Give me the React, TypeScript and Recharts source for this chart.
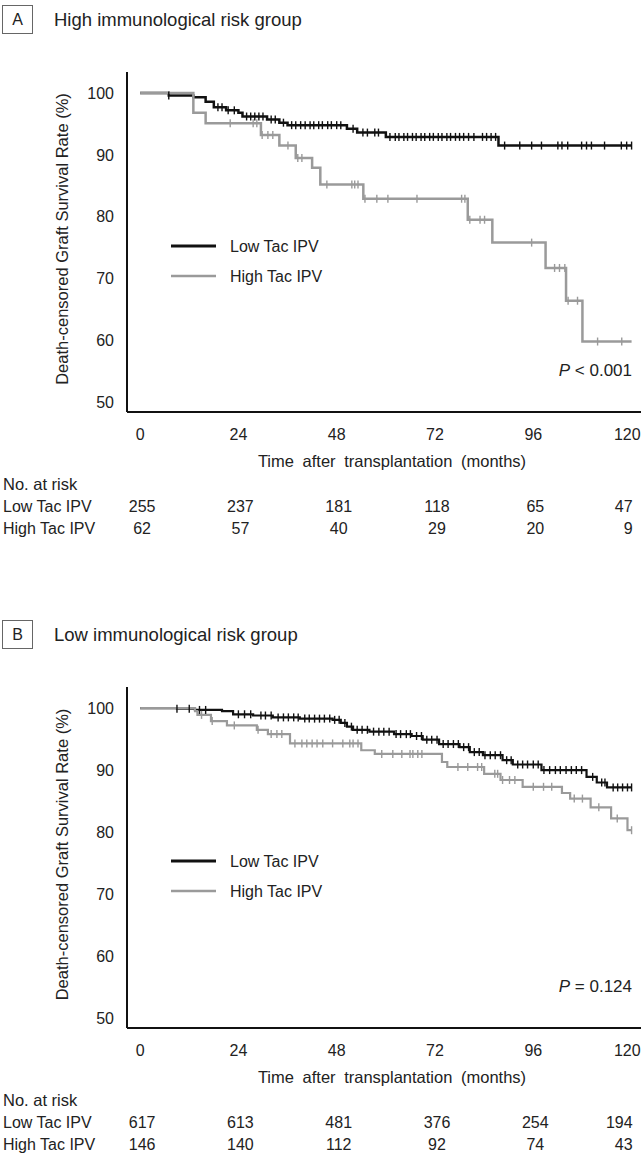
import React from 'react';
import { ComposedChart, Line, Scatter, XAxis, YAxis, Legend } from 'recharts';

const FONT = '"Liberation Sans", Arial, sans-serif';
const TEXT = '#222222';
const LOW_COLOR = '#111111';
const HIGH_COLOR = '#9a9a9a';

const timeTicks = [0, 24, 48, 72, 96, 120];
const survTicks = [50, 60, 70, 80, 90, 100];
const seriesNames = ['Low Tac IPV', 'High Tac IPV'];

// Panel A – High immunological risk group
const aLowTime = [0, 7, 13, 16, 18, 21, 24, 25, 31, 34, 36, 50.5, 53, 60, 87.5, 120];
const aLowSurv = [100, 99.6, 99.3, 98.6, 97.7, 97.2, 96.8, 96.2, 95.7, 95.2, 94.8, 94.2, 93.6, 92.9, 91.5, 91.5];
const aLowCensor = [7, 19, 20, 21.5, 23, 26, 27, 28, 29, 30, 32, 33, 35, 37, 38, 39.2, 40.3, 41.5, 42.4, 43.6, 44.5, 45.8, 46.7, 48, 49, 52, 54.4, 55.5, 57.3, 58.2, 61, 62.3, 63.2, 64.4, 65.3, 66.5, 67.4, 68.6, 69.5, 70.7, 71.6, 72.8, 73.7, 74.9, 75.8, 77, 78, 79, 80.2, 81.5, 83.6, 84.6, 85.7, 86.8, 89, 92.7, 95.6, 98, 102, 103, 104.4, 107.8, 109, 110.2, 113.4, 117.5, 118.8, 120];
const aHighTime = [0, 13, 16, 29.5, 34, 38, 42, 44, 54.5, 80, 86, 99, 104, 108, 120];
const aHighSurv = [100, 96.8, 95.1, 93.2, 91.5, 89.5, 87.9, 85.2, 82.9, 79.5, 75.8, 71.7, 66.4, 59.8, 59.8];
const aHighCensor = [22, 27.6, 28.5, 29.8, 31.2, 32.4, 36.1, 38.5, 39.5, 45.6, 51.7, 52.4, 53.2, 54.9, 57.8, 60.5, 67.6, 78.5, 79.3, 80.5, 83, 84.1, 95.6, 101.2, 102.4, 103.7, 104.5, 106.8, 111.7, 117.6];
const aLowRisk = [255, 237, 181, 118, 65, 47];
const aHighRisk = [62, 57, 40, 29, 20, 9];

// Panel B – Low immunological risk group
const bLowTime = [0, 9, 13.4, 20, 22.7, 27.6, 32.4, 39, 47, 49, 50.5, 52, 56, 62, 66.3, 69, 73, 78, 80.5, 83.7, 88.5, 91, 98, 109, 111.5, 114, 120];
const bLowSurv = [100, 99.9, 99.7, 99.5, 99.0, 98.8, 98.5, 98.3, 98.1, 97.6, 97.0, 96.5, 96.2, 95.8, 95.5, 94.9, 94.2, 93.7, 92.9, 92.4, 91.6, 90.9, 90.0, 88.9, 88.0, 87.2, 87.2];
const bLowCensor = [9, 12, 14.5, 16, 24, 25.5, 27, 29.5, 30.6, 32, 33.7, 35, 36.2, 37.5, 38.6, 40.2, 41.3, 42.6, 43.8, 45, 46.3, 47.5, 48.6, 50, 51.6, 53, 54.2, 55.5, 57, 58.3, 59.5, 60.8, 62.5, 63.6, 65, 66, 67.5, 68.7, 70, 71.2, 72.5, 74, 75.2, 76.5, 77.7, 79, 80.2, 81.6, 82.8, 84.2, 85.5, 86.7, 88, 89.5, 90.6, 92.2, 93.4, 94.6, 96, 97.2, 98.6, 100, 101.4, 102.6, 104, 105.3, 106.5, 107.8, 110.5, 112.7, 113.5, 115.5, 116.6, 117.8, 119, 120];
const bHighTime = [0, 13.4, 14, 17.3, 21.2, 28.5, 31.2, 36.6, 54, 57.3, 73.7, 75, 84, 88, 93.4, 103, 105, 110, 115, 119, 120];
const bHighSurv = [100, 99.5, 98.9, 97.9, 97.2, 96.5, 95.8, 94.3, 93.2, 92.6, 91.3, 90.5, 89.4, 88.4, 87.3, 86.3, 85.4, 84.0, 82.2, 80.3, 80.3];
const bHighCensor = [15, 17.6, 23, 28.8, 32, 33.4, 34.6, 37.8, 39.5, 40.7, 42, 43.2, 44.6, 47, 49.5, 51.2, 52, 53.2, 59, 61.7, 63.9, 65.9, 66.6, 67.8, 68.8, 77.6, 80, 82.4, 83.4, 86.6, 87.3, 88.5, 90.2, 91.5, 96, 98.5, 100.5, 106, 108, 112, 116.5, 120];
const bLowRisk = [617, 613, 481, 376, 254, 194];
const bHighRisk = [146, 140, 112, 92, 74, 43];

function survAt(times: number[], survs: number[], t: number) {
  let v = survs[0];
  for (let i = 0; i < times.length; i++) {
    if (times[i] <= t) v = survs[i];
  }
  return v;
}

const censorShape = (color: string) => (props: any) => {
  const { cx, cy } = props;
  if (cx == null || cy == null) return <g />;
  return <line x1={cx} x2={cx} y1={cy - 4} y2={cy + 4} stroke={color} strokeWidth={1.4} />;
};

type PanelProps = {
  top: number;
  letter: string;
  title: string;
  plotHeight: number;
  lowTime: number[];
  lowSurv: number[];
  lowCensor: number[];
  highTime: number[];
  highSurv: number[];
  highCensor: number[];
  lowRisk: number[];
  highRisk: number[];
  pOp: string;
  pVal: string;
  lineWidth: number;
};

function KMPanel(p: PanelProps) {
  const plotTop = 72;
  const chartH = plotTop + p.plotHeight + 150;
  const axisY = plotTop + p.plotHeight;
  const xAxisH = 30;
  const lowData = p.lowTime.map((t, i) => ({ t, s: p.lowSurv[i] }));
  const highData = p.highTime.map((t, i) => ({ t, s: p.highSurv[i] }));
  const lowCens = p.lowCensor.map((t) => ({ t, s: survAt(p.lowTime, p.lowSurv, t) }));
  const highCens = p.highCensor.map((t) => ({ t, s: survAt(p.highTime, p.highSurv, t) }));

  const renderXTick = (props: any) => {
    const { x, y, payload } = props;
    const idx = timeTicks.indexOf(payload.value);
    const last = idx === timeTicks.length - 1;
    const anchor = last ? ('end' as const) : ('middle' as const);
    const common = { fontFamily: FONT, fill: TEXT, textAnchor: anchor, dominantBaseline: 'central' as const };
    return (
      <g>
        <text x={last ? x + 9 : x} y={y + 22} fontSize={16} {...common}>{payload.value}</text>
        <text x={last ? x + 1 : x + 2} y={y + 94} fontSize={16} {...common}>{p.lowRisk[idx]}</text>
        <text x={last ? x + 1 : x + 2} y={y + 116} fontSize={16} {...common}>{p.highRisk[idx]}</text>
      </g>
    );
  };

  const legendContent = () => (
    <svg width={200} height={62} style={{ display: 'block', overflow: 'visible' }}>
      <line x1={11} x2={56} y1={14} y2={14} stroke={LOW_COLOR} strokeWidth={3} />
      <text x={70} y={14} fontSize={16} fontFamily={FONT} fill={TEXT} dominantBaseline="central">{seriesNames[0]}</text>
      <line x1={11} x2={56} y1={44} y2={44} stroke={HIGH_COLOR} strokeWidth={2.5} />
      <text x={70} y={44} fontSize={16} fontFamily={FONT} fill={TEXT} dominantBaseline="central">{seriesNames[1]}</text>
    </svg>
  );

  return (
    <div style={{ position: 'absolute', left: 0, top: p.top, width: 644, height: chartH }}>
      <ComposedChart
        width={644}
        height={chartH}
        margin={{ top: plotTop, right: 3, left: 67, bottom: chartH - axisY - xAxisH }}
      >
        <XAxis
          type="number"
          dataKey="t"
          domain={[-3.2, 122.3]}
          ticks={timeTicks}
          interval={0}
          allowDataOverflow
          height={xAxisH}
          axisLine={{ stroke: '#111', strokeWidth: 2 }}
          tickLine={false}
          tickSize={0}
          tickMargin={0}
          tick={renderXTick}
        />
        <YAxis
          type="number"
          domain={[48.4, 103.4]}
          ticks={survTicks}
          interval={0}
          allowDataOverflow
          width={60}
          axisLine={{ stroke: '#111', strokeWidth: 2 }}
          tickLine={false}
          tickSize={0}
          tickMargin={13}
          tick={{ fontSize: 16, fill: TEXT, fontFamily: FONT }}
        />
        <Line data={lowData} dataKey="s" type="stepAfter" stroke={LOW_COLOR} strokeWidth={p.lineWidth} dot={false} activeDot={false} isAnimationActive={false} />
        <Scatter data={lowCens} dataKey="s" shape={censorShape(LOW_COLOR)} isAnimationActive={false} />
        <Line data={highData} dataKey="s" type="stepAfter" stroke={HIGH_COLOR} strokeWidth={p.lineWidth} dot={false} activeDot={false} isAnimationActive={false} />
        <Scatter data={highCens} dataKey="s" shape={censorShape(HIGH_COLOR)} isAnimationActive={false} />
        <Legend
          layout="vertical"
          align="center"
          verticalAlign="middle"
          content={legendContent}
          wrapperStyle={{ left: 160, top: 232, width: 200, height: 62 }}
        />
      </ComposedChart>
      <svg width={644} height={chartH} style={{ position: 'absolute', left: 0, top: 0, pointerEvents: 'none' }}>
        <rect x={2.5} y={5.5} width={30} height={28} fill="none" stroke="#666" strokeWidth={1} />
        <text x={17.5} y={19.5} fontSize={16} fontFamily={FONT} fill={TEXT} textAnchor="middle" dominantBaseline="central">{p.letter}</text>
        <text x={54} y={19.5} fontSize={18.5} fontFamily={FONT} fill={TEXT} dominantBaseline="central">{p.title}</text>
        <text
          x={62}
          y={plotTop + p.plotHeight / 2 - 3}
          fontSize={16.5}
          fontFamily={FONT}
          fill={TEXT}
          textAnchor="middle"
          dominantBaseline="central"
          transform={`rotate(-90 62 ${plotTop + p.plotHeight / 2 - 3})`}
        >
          Death-censored Graft Survival Rate (%)
        </text>
        <text x={632} y={axisY - 42} fontSize={17} fontFamily={FONT} fill={TEXT} textAnchor="end" dominantBaseline="central">
          <tspan fontStyle="italic">P</tspan>
          {` ${p.pOp} ${p.pVal}`}
        </text>
        <text x={392} y={axisY + 49} fontSize={16.5} fontFamily={FONT} fill={TEXT} textAnchor="middle" dominantBaseline="central" wordSpacing={4}>
          Time after transplantation (months)
        </text>
        <text x={3} y={axisY + 72} fontSize={16.5} fontFamily={FONT} fill={TEXT} dominantBaseline="central">No. at risk</text>
        <text x={3} y={axisY + 94} fontSize={16} fontFamily={FONT} fill={TEXT} dominantBaseline="central">{seriesNames[0]}</text>
        <text x={3} y={axisY + 116} fontSize={16} fontFamily={FONT} fill={TEXT} dominantBaseline="central">{seriesNames[1]}</text>
      </svg>
    </div>
  );
}

export default function App() {
  return (
    <div style={{ position: 'absolute', left: 0, top: 0, width: 644, height: 1167, background: '#fff', overflow: 'hidden' }}>
      <KMPanel
        top={0}
        letter="A"
        title="High immunological risk group"
        plotHeight={340}
        lowTime={aLowTime}
        lowSurv={aLowSurv}
        lowCensor={aLowCensor}
        highTime={aHighTime}
        highSurv={aHighSurv}
        highCensor={aHighCensor}
        lowRisk={aLowRisk}
        highRisk={aHighRisk}
        pOp="<"
        pVal="0.001"
        lineWidth={2.5}
      />
      <KMPanel
        top={615}
        letter="B"
        title="Low immunological risk group"
        plotHeight={341}
        lowTime={bLowTime}
        lowSurv={bLowSurv}
        lowCensor={bLowCensor}
        highTime={bHighTime}
        highSurv={bHighSurv}
        highCensor={bHighCensor}
        lowRisk={bLowRisk}
        highRisk={bHighRisk}
        pOp="="
        pVal="0.124"
        lineWidth={2.2}
      />
    </div>
  );
}
